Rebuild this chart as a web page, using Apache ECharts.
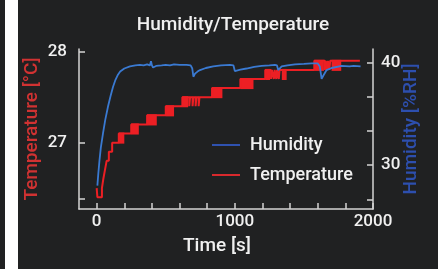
<!DOCTYPE html>
<html>
<head>
    <title>Humidity/Temperature</title>
    <script src="https://cdn.jsdelivr.net/npm/echarts@6/dist/echarts.min.js"></script>
    <style>
        body { margin: 0; background: #202122; }
        #chart { position: absolute; left: 0; top: 0; width: 446px; height: 269px; }
        .strip { position: absolute; top: 0; height: 269px; background: #ffffff; }
    </style>
</head>
<body>
    <div id="chart"></div>
    <div class="strip" style="left: 5px; width: 13px;"></div>
    <div class="strip" style="left: 438px; width: 8px;"></div>

    <script>
        // temperature readings (step line, value holds until next time)
        var tempTime = [0, 5, 38, 48, 60, 72, 88, 112, 160, 250, 365, 500, 620, 670, 676, 694, 700, 716, 722, 738, 744,
            835, 1040, 1220, 1262, 1268, 1282, 1288, 1300, 1306, 1318, 1324, 1575, 1652, 1658, 1668, 1674, 1684, 1690, 1905];
        var tempValue = [26.5, 26.4, 26.5, 26.6, 26.7, 26.8, 26.9, 27.0, 27.1, 27.2, 27.3, 27.4, 27.5, 27.4, 27.5, 27.4, 27.5, 27.4, 27.5, 27.4, 27.5,
            27.6, 27.7, 27.8, 27.7, 27.8, 27.7, 27.8, 27.7, 27.8, 27.7, 27.8, 27.9, 27.8, 27.9, 27.8, 27.9, 27.8, 27.9, 27.9];
        // ranges where the sensor flickers between two levels: [start, end, low, high]
        var tempFlicker = [
            [160, 200, 27.0, 27.1],
            [250, 305, 27.1, 27.2],
            [365, 435, 27.2, 27.3],
            [500, 560, 27.3, 27.4],
            [620, 662, 27.4, 27.5],
            [835, 910, 27.5, 27.6],
            [1040, 1135, 27.6, 27.7],
            [1220, 1255, 27.7, 27.8],
            [1340, 1375, 27.7, 27.8],
            [1575, 1645, 27.8, 27.9],
            [1700, 1770, 27.8, 27.9]
        ];

        var humTime = [5, 12, 20, 30, 46, 62, 82, 100, 118, 136, 154, 170, 200, 241, 280, 313, 340, 365, 385, 393, 400, 408,
            430, 470, 500, 530, 560, 600, 651, 680, 692, 700, 712, 730, 748, 790, 844, 900, 965, 990, 1000, 1010, 1040,
            1085, 1140, 1194, 1250, 1290, 1305, 1314, 1325, 1339, 1380, 1435, 1500, 1556, 1600, 1615, 1628, 1640, 1664,
            1700, 1773, 1830, 1860, 1910];
        var humValue = [28.0, 29.2, 30.4, 31.7, 33.1, 34.4, 35.7, 36.7, 37.6, 38.3, 38.8, 39.1, 39.4, 39.6, 39.7, 39.75, 39.7, 39.8, 39.7, 40.1, 39.7, 39.5,
            39.65, 39.7, 39.75, 39.7, 39.8, 39.75, 39.75, 39.7, 39.4, 38.6, 38.9, 39.1, 39.25, 39.45, 39.6, 39.7, 39.75, 39.7, 39.15, 39.2, 39.3,
            39.4, 39.55, 39.65, 39.7, 39.75, 39.7, 39.25, 39.4, 39.6, 39.7, 39.8, 39.85, 39.9, 39.9, 39.6, 38.4, 38.7, 39.25,
            39.45, 39.65, 39.6, 39.65, 39.6];

        var xTicks = [0, 200, 400, 600, 800, 1000, 1200, 1400, 1600, 1800, 2000];
        var xLabels = [0, 1000, 2000];
        var tempTicks = [26.38, 27, 28];
        var tempLabels = [27, 28];
        var humTicks = [26.667, 30, 33.333, 36.667, 40];
        var humLabels = [30, 40];

        var axisColor = '#d4d4d4';
        var textColor = '#f0f0f0';
        var font = 'Roboto';

        function pairs(xs, ys) {
            return xs.map(function (x, i) { return [x, ys[i]]; });
        }

        var chart = echarts.init(document.getElementById('chart'), null, { renderer: 'canvas' });

        function axisCommon(ticks, labels, margin) {
            return {
                axisLine: { show: true, onZero: false, lineStyle: { color: axisColor, width: 1.5 } },
                axisTick: { show: true, inside: true, length: 6, customValues: ticks, lineStyle: { color: axisColor, width: 1.5 } },
                axisLabel: {
                    show: true, customValues: labels, color: textColor, fontSize: 17, fontWeight: 500,
                    fontFamily: font, margin: margin,
                    formatter: function (v) { return String(v); }
                },
                splitLine: { show: false },
                nameMoveOverlap: false
            };
        }

        var xAxis = Object.assign(axisCommon(xTicks, xLabels, 4), {
            type: 'value', min: -128, max: 2000,
            name: 'Time [s]', nameLocation: 'middle', nameGap: 28
        });
        xAxis.nameTextStyle = { fontSize: 19, fontWeight: 500, fontFamily: font, color: textColor, padding: [0, 18, 0, 0] };

        var yLeft = Object.assign(axisCommon(tempTicks, tempLabels, 12), {
            type: 'value', min: 26.27, max: 28.03, position: 'left',
            name: 'Temperature [°C]', nameLocation: 'middle', nameGap: 37, nameRotate: 90
        });
        yLeft.nameTextStyle = { fontSize: 19, fontWeight: 500, fontFamily: font, color: '#d03232' };

        var yRight = Object.assign(axisCommon(humTicks, humLabels, 8), {
            type: 'value', min: 25.72, max: 41.3, position: 'right',
            name: 'Humidity [%RH]', nameLocation: 'middle', nameGap: 29, nameRotate: 90
        });
        yRight.nameTextStyle = { fontSize: 19, fontWeight: 500, fontFamily: font, color: '#2d4fae' };

        var option = {
            backgroundColor: '#202122',
            animation: false,
            title: {
                text: 'Humidity/Temperature',
                left: 228, top: 11, textAlign: 'center',
                textStyle: { color: textColor, fontSize: 19, fontWeight: 500, fontFamily: font }
            },
            grid: { left: 79, right: 73, top: 49, bottom: 60 },
            legend: {
                orient: 'vertical', left: 207, top: 131,
                itemWidth: 28, itemHeight: 2, itemGap: 12,
                textStyle: { color: textColor, fontSize: 18, fontWeight: 500, fontFamily: font, padding: [0, 0, 0, 5] },
                data: [
                    { name: 'Humidity', icon: 'rect', itemStyle: { color: '#2f52b0' } },
                    { name: 'Temperature', icon: 'rect', itemStyle: { color: '#d8292d' } }
                ]
            },
            xAxis: xAxis,
            yAxis: [yLeft, yRight],
            series: [
                {
                    name: 'Temperature', type: 'line', yAxisIndex: 0, step: 'end',
                    symbol: 'none', data: pairs(tempTime, tempValue),
                    lineStyle: { color: '#ec1f24', width: 2 }, itemStyle: { color: '#ec1f24' }, z: 3
                },
                {
                    type: 'custom', yAxisIndex: 0, data: tempFlicker, z: 3, silent: true,
                    renderItem: function (params, api) {
                        var p0 = api.coord([api.value(0), api.value(3)]);
                        var p1 = api.coord([api.value(1), api.value(2)]);
                        return {
                            type: 'rect',
                            shape: { x: p0[0], y: p0[1] - 1, width: p1[0] - p0[0], height: p1[1] - p0[1] + 2 },
                            style: { fill: '#ec1f24' }
                        };
                    }
                },
                {
                    name: 'Humidity', type: 'line', yAxisIndex: 1,
                    symbol: 'none', data: pairs(humTime, humValue),
                    lineStyle: { color: '#3a7ad2', width: 1.8 }, itemStyle: { color: '#3a7ad2' }, z: 4
                }
            ]
        };

        chart.setOption(option);
    </script>
</body>
</html>
